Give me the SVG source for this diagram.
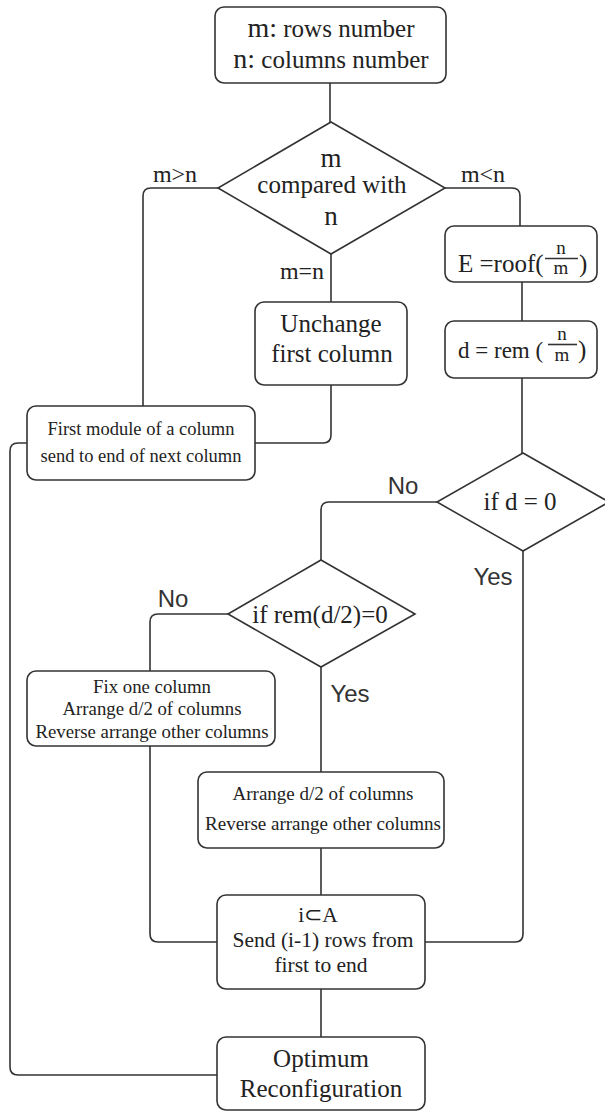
<svg xmlns="http://www.w3.org/2000/svg" width="605" height="1113" viewBox="0 0 605 1113">
<style>
.box{fill:#fff;stroke:#333;stroke-width:1.6}
.ln{fill:none;stroke:#333;stroke-width:1.6}
.t{font-family:"Liberation Serif",serif;fill:#222;text-anchor:middle}
.s{font-family:"Liberation Sans",sans-serif;fill:#333;text-anchor:middle;font-size:24px}
</style>
<rect width="605" height="1113" fill="#fff"/>
<g id="connectors" class="ln">
<path d="M330 83V122"/>
<path d="M218 188H151Q143 188 143 196V406"/>
<path d="M445 188H512Q520 188 520 196V226"/>
<path d="M331 254V302"/>
<path d="M522 282V321"/>
<path d="M522 378V453"/>
<path d="M331 385V435Q331 443 323 443H255"/>
<path d="M27 443H18Q10 443 10 451V1067Q10 1075 18 1075H217"/>
<path d="M437 502H329Q321 502 321 510V560"/>
<path d="M228 614H158Q150 614 150 622V671"/>
<path d="M321 667V772"/>
<path d="M150 746V934Q150 942 158 942H217"/>
<path d="M523 551V934Q523 942 515 942H425"/>
<path d="M321 848V895"/>
<path d="M321 989V1037"/>
</g>
<g id="start">
<rect class="box" x="215" y="7" width="231" height="76" rx="9"/>
<text class="t" x="331" y="37" font-size="25"><tspan font-size="28">m:</tspan> rows number</text>
<text class="t" x="331" y="68" font-size="25"><tspan font-size="28">n:</tspan> columns number</text>
</g>
<g id="compare">
<polygon class="box" points="331,122 445,188 331,254 218,188"/>
<text class="t" x="331" y="167" font-size="27">m</text>
<text class="t" x="332" y="193" font-size="25">compared with</text>
<text class="t" x="331" y="225" font-size="27">n</text>
</g>
<g id="labels1">
<text class="t" x="175" y="182" font-size="24">m&gt;n</text>
<text class="t" x="483" y="182" font-size="24">m&lt;n</text>
<text class="t" x="302" y="279" font-size="24">m=n</text>
</g>
<g id="roof">
<rect class="box" x="445" y="226" width="152" height="56" rx="9"/>
<text class="t" x="458" y="272" font-size="25" style="text-anchor:start">E =roof(</text>
<text class="t" x="561" y="254" font-size="19">n</text>
<line class="ln" x1="545" y1="258.5" x2="578" y2="258.5" stroke-width="1.3"/>
<text class="t" x="561" y="274" font-size="19">m</text>
<text class="t" x="579" y="272" font-size="25" style="text-anchor:start">)</text>
</g>
<g id="rem">
<rect class="box" x="445" y="321" width="152" height="57" rx="9"/>
<text class="t" x="458" y="358" font-size="23" style="text-anchor:start">d = rem (</text>
<text class="t" x="562" y="340" font-size="19">n</text>
<line class="ln" x1="548" y1="344.5" x2="577" y2="344.5" stroke-width="1.3"/>
<text class="t" x="562" y="361" font-size="19">m</text>
<text class="t" x="578" y="358" font-size="25" style="text-anchor:start">)</text>
</g>
<g id="unchange">
<rect class="box" x="255" y="302" width="152" height="83" rx="9"/>
<text class="t" x="331" y="332" font-size="25">Unchange</text>
<text class="t" x="332" y="362" font-size="25">first column</text>
</g>
<g id="firstmodule">
<rect class="box" x="27" y="406" width="228" height="74" rx="9"/>
<text class="t" x="141" y="435" font-size="18.5">First module of a column</text>
<text class="t" x="141" y="462" font-size="18.5">send to end of next column</text>
</g>
<g id="ifd">
<polygon class="box" points="523,453 609,502 523,551 437,502"/>
<text class="t" x="520" y="510" font-size="25">if  d = 0</text>
</g>
<g id="labels2">
<text class="s" x="403" y="494">No</text>
<text class="s" x="493" y="585">Yes</text>
<text class="s" x="173" y="607">No</text>
<text class="s" x="350" y="702">Yes</text>
</g>
<g id="ifrem">
<polygon class="box" points="321,560 415,614 321,667 228,614"/>
<text class="t" x="320" y="623" font-size="25">if rem(d/2)=0</text>
</g>
<g id="fix">
<rect class="box" x="27" y="671" width="248" height="75" rx="9"/>
<text class="t" x="152" y="693" font-size="18.8">Fix one column</text>
<text class="t" x="152" y="715" font-size="18.8">Arrange d/2 of columns</text>
<text class="t" x="152" y="738" font-size="18.8">Reverse arrange other columns</text>
</g>
<g id="arrange">
<rect class="box" x="198" y="772" width="246" height="76" rx="9"/>
<text class="t" x="323" y="800" font-size="19">Arrange d/2 of columns</text>
<text class="t" x="323" y="830" font-size="19">Reverse arrange other columns</text>
</g>
<g id="send">
<rect class="box" x="217" y="895" width="208" height="94" rx="9"/>
<text class="t" x="318" y="922" font-size="21.5">i⊂A</text>
<text class="t" x="323" y="947" font-size="21.5">Send (i-1) rows from</text>
<text class="t" x="321" y="972" font-size="21.5">first to end</text>
</g>
<g id="optimum">
<rect class="box" x="217" y="1037" width="208" height="73" rx="9"/>
<text class="t" x="321" y="1067" font-size="25">Optimum</text>
<text class="t" x="321" y="1097" font-size="25">Reconfiguration</text>
</g>
</svg>
